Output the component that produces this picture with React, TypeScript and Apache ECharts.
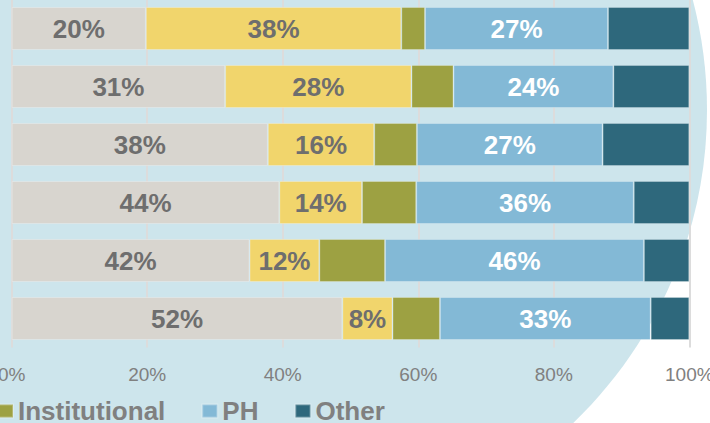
import React, { useEffect, useRef } from "react";
import * as echarts from "echarts";

const categories = ["Row 1", "Row 2", "Row 3", "Row 4", "Row 5", "Row 6"];
const seriesNames = ["Private", "Public", "Institutional", "PH", "Other"];
const privateVals = [19.8, 31.5, 37.8, 39.5, 35.1, 48.8];
const publicVals = [37.7, 27.5, 15.7, 12.2, 10.3, 7.4];
const institutionalVals = [3.5, 6.2, 6.3, 8.0, 9.7, 7.0];
const phVals = [27.0, 23.6, 27.4, 32.1, 38.2, 31.1];
const otherVals = [12.0, 11.2, 12.8, 8.2, 6.7, 5.7];
const privateLabels = ["20%", "31%", "38%", "44%", "42%", "52%"];
const publicLabels = ["38%", "28%", "16%", "14%", "12%", "8%"];
const phLabels = ["27%", "24%", "27%", "36%", "46%", "33%"];
const legendItems = ["Institutional", "PH", "Other"];
const xTicks = [0, 20, 40, 60, 80, 100];

const colors = ["#d8d5cf", "#f1d56c", "#9da142", "#83b9d6", "#2e687c"];

export default function App() {
  const ref = useRef<HTMLDivElement>(null);
  useEffect(() => {
    document.body.style.margin = "0";
    if (!ref.current) return;
    const chart = echarts.init(ref.current, undefined, { renderer: "svg" });
    const values = [privateVals, publicVals, institutionalVals, phVals, otherVals];
    const labels: (string[] | null)[] = [privateLabels, publicLabels, null, phLabels, null];
    const labelColors = ["#6e6e6e", "#6e6e6e", "#fff", "#fff", "#fff"];
    chart.setOption({
      animation: false,
      backgroundColor: "#ffffff",
      graphic: [
        {
          type: "ellipse",
          z: -10,
          silent: true,
          shape: { cx: 257, cy: 110, rx: 450, ry: 440 },
          style: { fill: "#cde5ec" },
        },
      ],
      grid: {
        left: 11.7,
        right: 20.7,
        top: -0.5,
        height: 348,
        containLabel: false,
        outerBoundsMode: "none",
      },
      legend: {
        data: legendItems,
        left: -3,
        top: 398,
        padding: 0,
        itemWidth: 15,
        itemHeight: 13,
        itemGap: 36,
        icon: "rect",
        textStyle: {
          fontFamily: "Liberation Sans, Arial, sans-serif",
          fontSize: 26,
          fontWeight: "bold",
          color: "#808080",
        },
      },
      xAxis: {
        type: "value",
        min: xTicks[0],
        max: xTicks[xTicks.length - 1],
        interval: 20,
        axisLine: { show: false },
        axisTick: { show: false },
        splitLine: { show: true, lineStyle: { color: "#dcdcdc", width: 2 } },
        axisLabel: {
          formatter: (v: number) => `${v}%`,
          fontFamily: "Liberation Sans, Arial, sans-serif",
          fontSize: 19,
          color: "#808080",
          margin: 17,
        },
      },
      yAxis: {
        type: "category",
        data: categories,
        inverse: true,
        axisLine: { show: false },
        axisTick: { show: false },
        axisLabel: { show: false },
      },
      series: seriesNames.map((name, i) => ({
        name,
        type: "bar",
        stack: "total",
        barWidth: 43,
        data: values[i],
        itemStyle: {
          color: colors[i],
          borderColor: "rgba(255,255,255,0.25)",
          borderWidth: 1,
        },
        label: {
          show: labels[i] !== null,
          position: "inside",
          formatter: (p: any) => (labels[i] ? labels[i]![p.dataIndex] : ""),
          fontFamily: "Liberation Sans, Arial, sans-serif",
          fontSize: 26,
          fontWeight: "bold",
          color: labelColors[i],
        },
      })),
    });
    return () => chart.dispose();
  }, []);
  return <div ref={ref} style={{ width: 710, height: 423 }} />;
}
